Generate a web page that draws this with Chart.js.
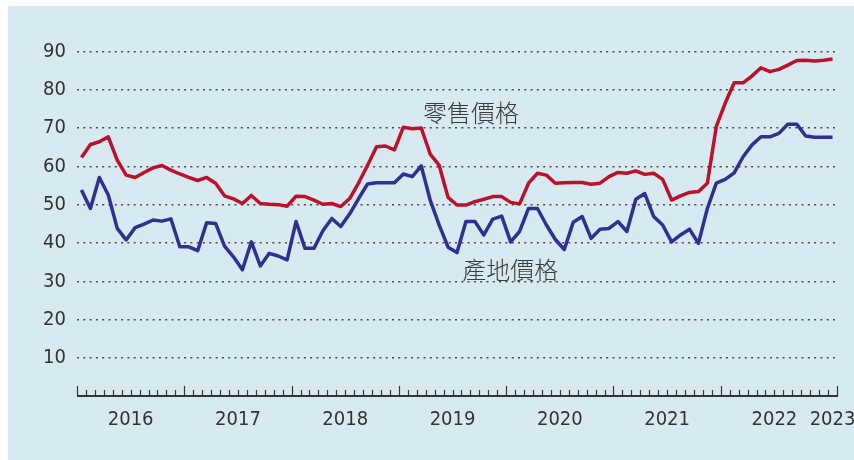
<!DOCTYPE html>
<html>
<head>
<meta charset="utf-8">
<script src="https://cdn.jsdelivr.net/npm/chart.js@4.4.0/dist/chart.umd.min.js"></script>
<style>
  body { margin: 0; background: #fff; }
  #wrap { position: absolute; left: 8px; top: 6px; width: 846px; height: 454px; background: #d7e9f1; }
</style>
</head>
<body>
<div id="wrap"><canvas id="priceChart" width="846" height="454"></canvas></div>
<script>
// monthly series, Jan 2016 .. Jan 2023
const yearLabels = ["2016", "2017", "2018", "2019", "2020", "2021", "2022", "2023"];
const monthsPerYear = [12, 12, 12, 12, 12, 12, 12, 1];
const yTicks = [10, 20, 30, 40, 50, 60, 70, 80, 90];

const retailName = "零售價格";
const farmName = "產地價格";

const retailPrices = [
  62.3, 65.7, 66.4, 67.7, 61.6, 57.7, 57.1, 58.4, 59.6, 60.2, 59.0, 58.0,
  57.1, 56.3, 57.1, 55.6, 52.3, 51.5, 50.3, 52.4, 50.3, 50.1, 50.0, 49.6,
  52.2, 52.1, 51.2, 50.1, 50.3, 49.5, 51.6, 55.7, 60.3, 65.1, 65.3, 64.3,
  70.2, 69.8, 70.0, 63.2, 60.3, 51.9, 49.9, 49.9, 50.8, 51.4, 52.1, 52.1,
  50.6, 50.2, 55.6, 58.2, 57.7, 55.6, 55.7, 55.8, 55.8, 55.3, 55.6, 57.3,
  58.4, 58.2, 58.8, 57.9, 58.2, 56.6, 51.2, 52.3, 53.2, 53.4, 55.6, 70.4,
  76.5, 81.8, 81.8, 83.6, 85.7, 84.7, 85.3, 86.4, 87.6, 87.7, 87.5, 87.7,
  88.0
];

const farmPrices = [
  53.8, 49.0, 57.1, 52.5, 43.8, 40.8, 44.0, 44.9, 46.0, 45.7, 46.3, 39.0,
  39.0, 38.0, 45.3, 45.1, 39.2, 36.4, 33.0, 40.3, 34.0, 37.3, 36.6, 35.6,
  45.6, 38.6, 38.6, 43.2, 46.4, 44.3, 47.6, 51.6, 55.4, 55.7, 55.7, 55.7,
  58.0, 57.3, 60.1, 51.2, 44.7, 38.9, 37.5, 45.6, 45.6, 42.1, 46.2, 47.0,
  40.3, 43.0, 49.0, 49.0, 44.7, 40.9, 38.3, 45.4, 46.9, 41.2, 43.6, 43.8,
  45.6, 43.0, 51.4, 52.9, 46.9, 44.7, 40.3, 42.1, 43.6, 39.9, 49.0, 55.6,
  56.6, 58.3, 62.5, 65.6, 67.7, 67.7, 68.6, 71.0, 71.0, 67.9, 67.6, 67.6,
  67.6
];

const yearStarts = [];
const yearCenters = [];
let monthCount = 0;
monthsPerYear.forEach((n) => {
  yearStarts.push(monthCount);
  yearCenters.push(monthCount + n / 2);
  monthCount += n;
});
// tall ticks at the start of each full year and at the axis end
const majorTicks = yearStarts.filter((s, i) => monthsPerYear[i] === 12).concat([monthCount]);

const labelFont = { family: "'DejaVu Sans Condensed', 'Liberation Sans', sans-serif", size: 20 };
const textColor = "#333333";

function toPoints(values) {
  return values.map((v, i) => ({ x: i + 0.5, y: v }));
}

// month ticks point up from the axis line
const axisTicksPlugin = {
  id: "axisTicks",
  afterDraw(chart) {
    const xScale = chart.scales.x;
    const ctx = chart.ctx;
    const bottom = Math.round(chart.chartArea.bottom);
    ctx.save();
    ctx.strokeStyle = textColor;
    ctx.lineWidth = 2;
    ctx.beginPath();
    ctx.moveTo(Math.round(chart.chartArea.left), bottom);
    ctx.lineTo(Math.round(chart.chartArea.right) + 1, bottom);
    ctx.stroke();
    ctx.lineWidth = 1.2;
    for (let b = 0; b <= monthCount; b++) {
      const px = Math.round(xScale.getPixelForValue(b)) + 0.5;
      const len = majorTicks.includes(b) ? 10 : 6;
      ctx.beginPath();
      ctx.moveTo(px, bottom);
      ctx.lineTo(px, bottom - len);
      ctx.stroke();
    }
    ctx.restore();
  },
};

const seriesLabelPlugin = {
  id: "seriesLabels",
  afterDatasetsDraw(chart) {
    const { x, y } = chart.scales;
    const ctx = chart.ctx;
    ctx.save();
    ctx.font = "300 24px 'Noto Sans CJK TC', sans-serif";
    ctx.fillStyle = "#3c3c3c";
    ctx.textAlign = "left";
    ctx.textBaseline = "middle";
    ctx.fillText(retailName, x.getPixelForValue(38.7), y.getPixelForValue(73.9));
    ctx.fillText(farmName, x.getPixelForValue(43.1), y.getPixelForValue(32.9));
    ctx.restore();
  },
};

new Chart(document.getElementById("priceChart"), {
  type: "line",
  data: {
    datasets: [
      {
        label: retailName,
        data: toPoints(retailPrices),
        borderColor: "#be1128",
        borderWidth: 3.5,
        pointRadius: 0,
        tension: 0,
        borderJoinStyle: "round",
      },
      {
        label: farmName,
        data: toPoints(farmPrices),
        borderColor: "#2e3192",
        borderWidth: 3.5,
        pointRadius: 0,
        tension: 0,
        borderJoinStyle: "round",
      },
    ],
  },
  options: {
    responsive: false,
    animation: false,
    layout: { padding: { top: 7, right: 17, left: 0, bottom: 0 } },
    plugins: {
      legend: { display: false },
      tooltip: { enabled: false },
    },
    scales: {
      x: {
        type: "linear",
        min: 0,
        max: monthCount,
        grid: { display: false, drawTicks: false },
        border: { display: false },
        afterBuildTicks: (s) => {
          s.ticks = yearCenters.map((v) => ({ value: v }));
        },
        afterFit: (s) => {
          s.height = 63.7;
          s.paddingLeft = 0;
          s.paddingRight = 0;
        },
        ticks: {
          autoSkip: false,
          maxRotation: 0,
          padding: 11,
          color: textColor,
          font: labelFont,
          callback: (value, index) => yearLabels[index],
        },
      },
      y: {
        min: 0,
        max: 100,
        grid: { color: "#4a4a4a", lineWidth: 1.5, drawTicks: false },
        border: { display: false, dash: [2, 4.3] },
        afterBuildTicks: (s) => {
          s.ticks = yTicks.map((v) => ({ value: v }));
        },
        afterFit: (s) => {
          s.width = 69;
          s.paddingTop = 0;
          s.paddingBottom = 0;
        },
        ticks: {
          padding: 11,
          color: textColor,
          font: labelFont,
        },
      },
    },
  },
  plugins: [axisTicksPlugin, seriesLabelPlugin],
});
</script>
</body>
</html>
